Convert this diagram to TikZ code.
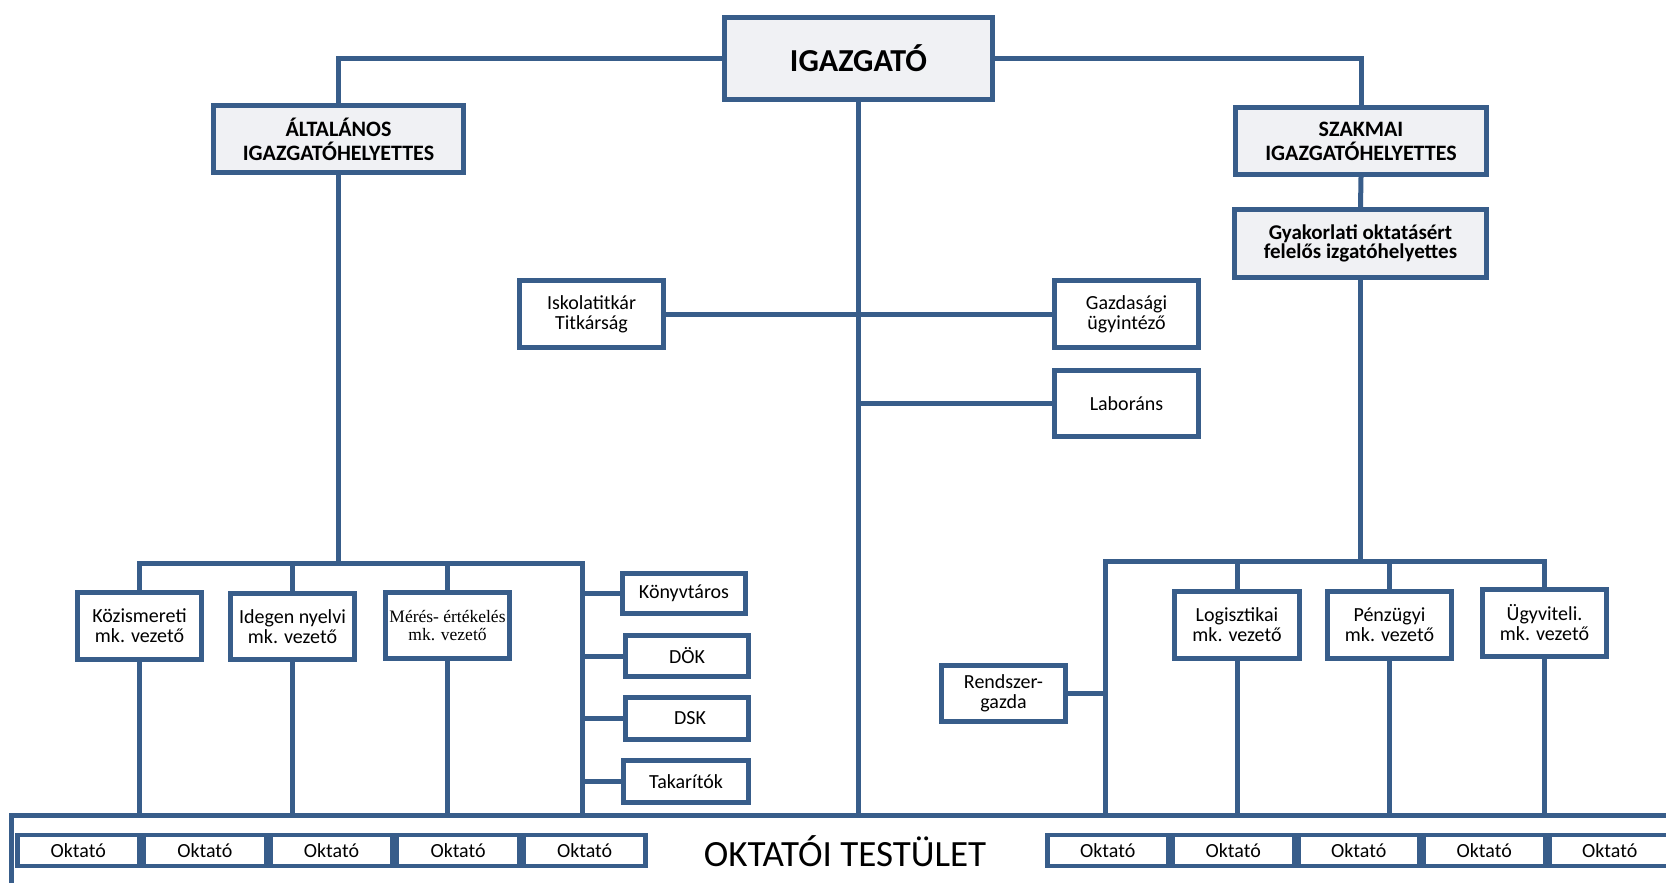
\documentclass[tikz,border=0pt]{standalone}
\usepackage{fontspec}
\setmainfont{Carlito}
\newfontfamily\timesf{Liberation Serif}
\definecolor{lineblue}{RGB}{56,93,138}
\definecolor{boxgray}{RGB}{240,241,244}
\tikzset{
  conn/.style={draw=lineblue, line width=5pt},
  obox/.style={draw=lineblue, line width=5pt, fill=white, align=center, inner sep=0pt,
    font=\fontsize{20}{20}\selectfont},
  tbox/.style={obox, fill=boxgray, font=\bfseries\fontsize{22}{24}\selectfont},
  okt/.style={draw=lineblue, line width=4.5pt, fill=white, minimum height=31pt, inner sep=0pt,
    font=\fontsize{20}{20}\selectfont},
}
\begin{document}
\begin{tikzpicture}[x=1pt,y=-1pt]
\useasboundingbox (0,0) rectangle (1666,883);
\clip (0,0) rectangle (1666,883);
\fill[white] (0,0) rectangle (1666,883);

% top level
\node[tbox, minimum width=268pt, minimum height=82pt, font=\bfseries\fontsize{32}{36}\selectfont] (dir) at (858.5,58.5) {IGAZGATÓ};
\node[tbox, minimum width=250pt, minimum height=67pt] (alt) at (338.5,139) {ÁLTALÁNOS\\IGAZGATÓHELYETTES};
\node[tbox, minimum width=251pt, minimum height=67pt] (szak) at (1361,141) {SZAKMAI\\IGAZGATÓHELYETTES};
\node[tbox, minimum width=252pt, minimum height=68pt, font=\bfseries\fontsize{21}{15}\selectfont] (gyak) at (1360.5,243.5) {Gyakorlati oktatásért\\felelős izgatóhelyettes};

% middle
\node[obox, minimum width=144pt, minimum height=67pt] (isk) at (591.5,314) {Iskolatitkár\\Titkárság};
\node[obox, minimum width=144pt, minimum height=67pt] (gazd) at (1126.5,314) {Gazdasági\\ügyintéző};
\node[obox, minimum width=144pt, minimum height=66pt] (lab) at (1126.5,403.5) {Laboráns};

% left group
\node[obox, minimum width=124pt, minimum height=67pt] (koz) at (139.5,626) {Közismereti\\mk. vezető};
\node[obox, minimum width=124pt, minimum height=66pt] (ide) at (292.5,626.5) {Idegen nyelvi\\mk. vezető};
\node[obox, minimum width=124pt, minimum height=66pt, font=\timesf\fontsize{17.5}{18}\selectfont] (mer) at (447.5,625.5) {Mérés- értékelés\\mk. vezető};
\node[obox, minimum width=123pt, minimum height=40pt] (konyv) at (684,593.5) {Könyvtáros};
\node[obox, minimum width=123pt, minimum height=41pt] (dok) at (687,656) {DÖK};
\node[obox, minimum width=123pt, minimum height=42pt] (dsk) at (687,718.5) {\hspace{6pt}DSK};
\node[obox, minimum width=125pt, minimum height=42pt] (tak) at (686,781.5) {Takarítók};

% right group
\node[obox, minimum width=125pt, minimum height=67pt] (log) at (1237,625) {Logisztikai\\mk. vezető};
\node[obox, minimum width=124pt, minimum height=67pt] (pen) at (1389.5,625) {Pénzügyi\\mk. vezető};
\node[obox, minimum width=124pt, minimum height=67pt] (ugy) at (1544.5,623) {Ügyviteli.\\mk. vezető};
\node[obox, minimum width=124pt, minimum height=56pt] (rend) at (1003.5,693.5) {Rendszer-\\gazda};

% frame of the teaching staff
\coordinate (ft) at (0,815);
\coordinate (lbarR) at (582,563);
\coordinate (lbarB) at (582,815);
\coordinate (rbarL) at (1105,561);
\coordinate (rbarB) at (1105,815);
\draw[conn, line join=miter] (11,900) -- (11,815) -- (1700,815);

\node[font=\fontsize{37}{37}\selectfont] (testulet) at (845,851) {OKTATÓI TESTÜLET};
\foreach \i in {1,...,5} {
  \node[okt, minimum width=122pt] (ol\i) at ({15+126.6*(\i-0.5)},850.5) {Oktató};
  \node[okt, minimum width=121pt] (or\i) at ({1045+125.5*(\i-0.5)},850.5) {Oktató};
}

% connectors
\draw[conn] (dir.west) -| (alt.north);
\draw[conn] (dir.east) -| (szak.north);
\draw[conn] (dir.south) -- (dir.south |- ft);
\draw[conn] (szak.south) -- (gyak.north);
\draw[conn] (isk.east) -- (gazd.west);
\draw[conn] (lab.west) -- (lab.west -| dir.south);

\draw[conn] (alt.south) -- (alt.south |- lbarR);
\draw[conn] (koz.north) |- (lbarR) -- (lbarB);
\draw[conn] (ide.north) -- (ide.north |- lbarR);
\draw[conn] (mer.north) -- (mer.north |- lbarR);
\foreach \n in {konyv,dok,dsk,tak} \draw[conn] (\n.west) -- (\n.west -| lbarR);
\foreach \n in {koz,ide,mer,log,pen,ugy} \draw[conn] (\n.south) -- (\n.south |- ft);

\draw[conn] (gyak.south) -- (gyak.south |- rbarL);
\draw[conn] (rbarB) -- (rbarL) -| (ugy.north);
\draw[conn] (log.north) -- (log.north |- rbarL);
\draw[conn] (pen.north) -- (pen.north |- rbarL);
\draw[conn] (rend.east) -- (rend.east -| rbarL);
\end{tikzpicture}
\end{document}
